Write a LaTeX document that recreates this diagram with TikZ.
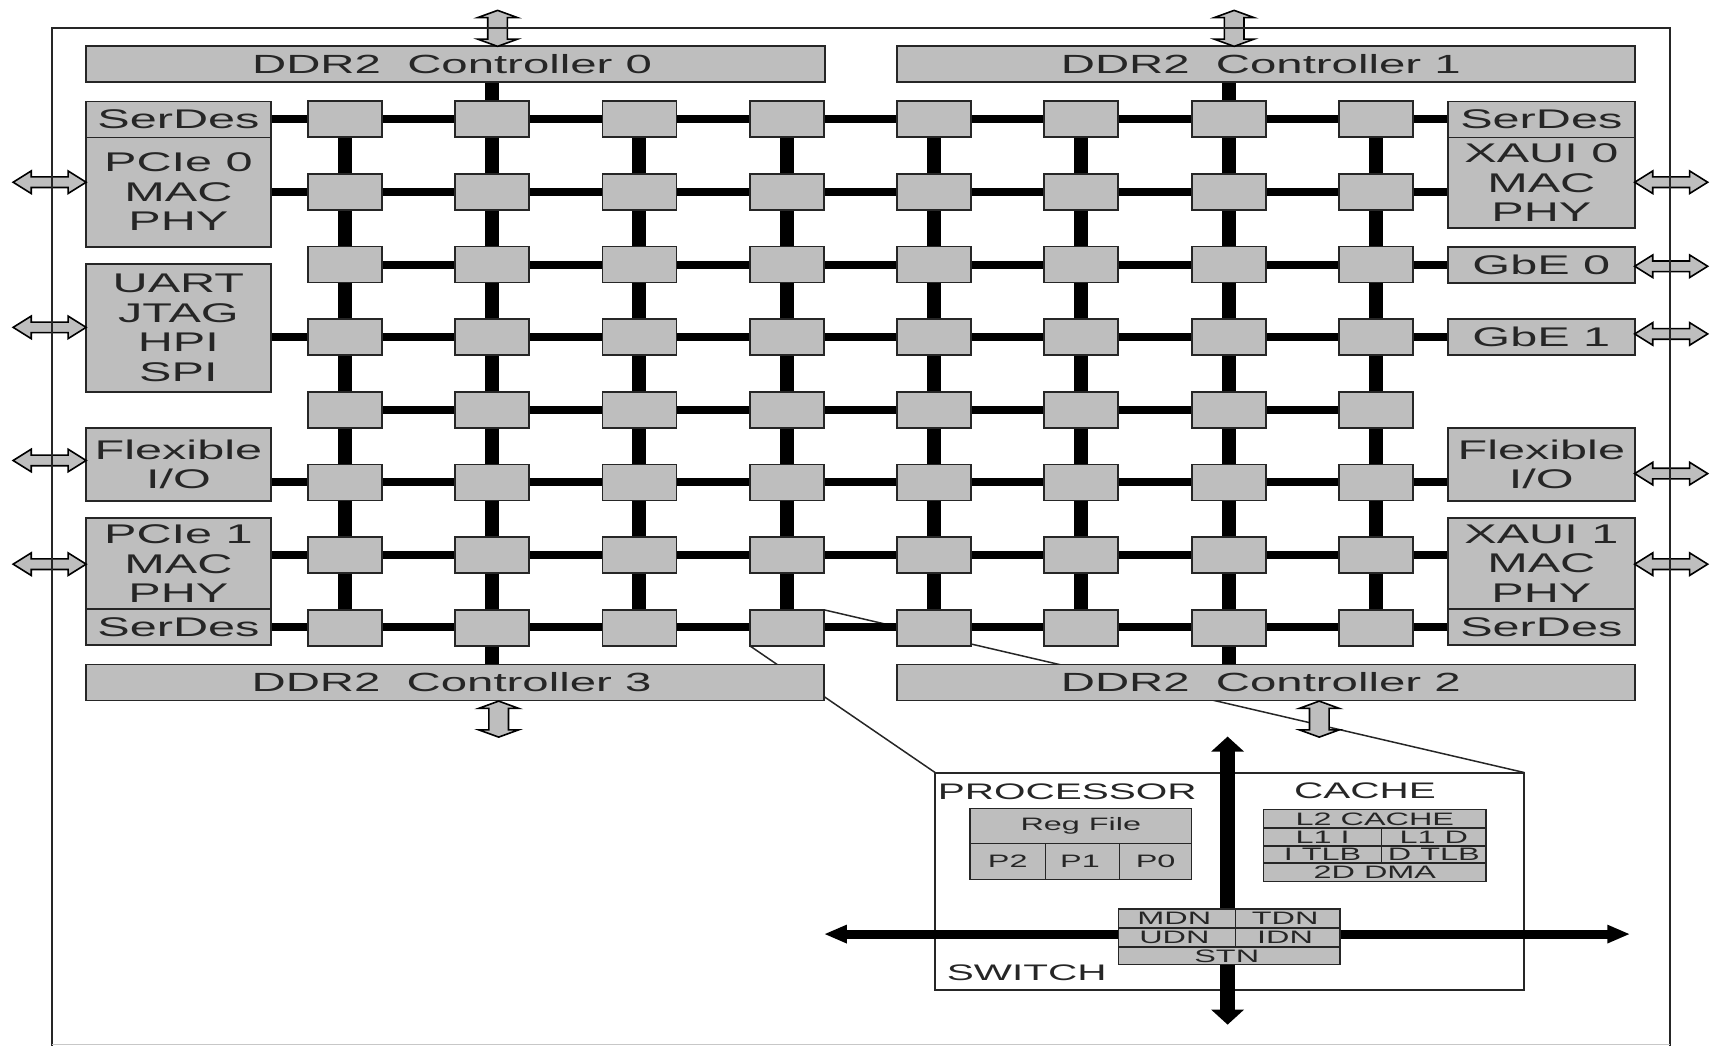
\documentclass[tikz,border=0pt]{standalone}
\usepackage{fontspec}
\setmainfont[FakeStretch=1.8]{Liberation Sans}
\usetikzlibrary{shapes.arrows,arrows.meta,backgrounds}
\definecolor{blockgray}{HTML}{BEBEBE}
\definecolor{inkc}{HTML}{262626}
% name, x1, y1, x2, y2, text (shrunk-reference coordinates)
\newcommand\bx[7][blockbox]{%
  \pgfmathsetmacro\myw{(#5-#3)*1.0912}%
  \pgfmathsetmacro\myh{(#6-#4)*1.0912}%
  \node[#1,minimum width=\myw pt,minimum height=\myh pt] (#2) at ({(#3+#5)/2},{(#4+#6)/2}) {#7};}
\tikzset{
  blockbox/.style={draw=inkc,fill=blockgray,line width=1.8pt,inner sep=0pt,outer sep=0pt,align=center,text=inkc,
    font=\fontsize{27}{29.5}\selectfont},
  ddrbox/.style={blockbox,font=\fontsize{26.3}{26.3}\selectfont},
  smallbox/.style={blockbox,line width=1.5pt,font=\fontsize{18}{18}\selectfont},
  tile/.style={draw=inkc,fill=blockgray,line width=1.8pt,inner sep=0pt,outer sep=0pt,minimum width=74pt,minimum height=36pt},
  hbus/.style={draw=black,line width=8pt},
  vbus/.style={draw=black,line width=14pt},
  thin link/.style={draw=inkc,line width=1.5pt},
  harrow/.style={double arrow,draw=black,fill=blockgray,line width=1.6pt,inner xsep=0pt,inner ysep=4.5pt,outer sep=0pt,
    minimum height=73pt,double arrow head extend=6pt,double arrow tip angle=64},
  varrow/.style={double arrow,rotate=90,draw=black,fill=blockgray,line width=1.6pt,inner xsep=0pt,inner ysep=9pt,outer sep=0pt,
    minimum height=36pt,double arrow head extend=10pt,double arrow tip angle=140},
  frame/.style={draw=inkc,line width=2pt,inner sep=0pt,outer sep=0pt},
  faint edge/.style={draw=black!22,line width=1.5pt},
  title/.style={inner sep=0pt,text=inkc,font=\fontsize{22.5}{22.5}\selectfont},
}
\begin{document}
\begin{tikzpicture}[x=1.0912pt,y=-1.0912pt]
\useasboundingbox (0,0) rectangle (1568,958);
% tiles
\foreach \c in {1,...,8}{\foreach \r in {1,...,8}{
  \node[tile] (t-\c-\r) at ({316+135*(\c-1)},{109.3+66.57*(\r-1)}) {};
}}
% DDR controllers
\bx[ddrbox]{ddr0}{79}{42}{756}{75}{DDR2 \ Controller 0\hspace*{7pt}}
\bx[ddrbox]{ddr1}{822}{42}{1498}{75}{DDR2 \ Controller 1\hspace*{10pt}}
\bx[ddrbox]{ddr3}{79}{609}{755}{642}{DDR2 \ Controller 3\hspace*{7pt}}
\bx[ddrbox]{ddr2}{822}{609}{1498}{642}{DDR2 \ Controller 2\hspace*{10pt}}
% left I/O
\bx{serl1}{79}{93}{248}{126}{SerDes}
\bx{pcie0}{79}{126}{248}{226}{PCIe 0\\MAC\\PHY}
\bx{uart}{79}{242}{248}{359}{UART\\JTAG\\HPI\\SPI}
\bx{flexl}{79}{392}{248}{459}{Flexible\\I/O}
\bx{pcie1}{79}{475}{248}{558}{PCIe 1\\MAC\\PHY}
\bx{serl2}{79}{558}{248}{591}{SerDes}
% right I/O
\bx{serr1}{1327}{93}{1498}{126}{SerDes}
\bx{xaui0}{1327}{126}{1498}{209}{XAUI 0\\MAC\\PHY}
\bx{gbe0}{1327}{226}{1498}{259}{GbE 0}
\bx{gbe1}{1327}{292}{1498}{325}{GbE 1}
\bx{flexr}{1327}{392}{1498}{459}{Flexible\\I/O}
\bx{xaui1}{1327}{475}{1498}{558}{XAUI 1\\MAC\\PHY}
\bx{serr2}{1327}{558}{1498}{591}{SerDes}
% detail frame
\bx[frame]{detail}{857}{708}{1397}{907}{}
\begin{pgfonlayer}{background}
  \draw[thin link] (t-4-8.south west) -- (detail.north west);
  \draw[thin link] (t-4-8.north east) -- (detail.north east);
  % horizontal buses
  \draw[hbus] (serl1) -- (serr1);
  \draw[hbus] (serl2) -- (serr2);
  \draw[hbus] (pcie0.east |- t-1-2) -- (xaui0.west |- t-8-2);
  \draw[hbus] (t-1-3) -- (gbe0.west |- t-8-3);
  \draw[hbus] (uart.east |- t-1-4) -- (gbe1.west |- t-8-4);
  \draw[hbus] (t-1-5) -- (t-8-5);
  \draw[hbus] (flexl.east |- t-1-6) -- (flexr.west |- t-8-6);
  \draw[hbus] (pcie1.east |- t-1-7) -- (xaui1.west |- t-8-7);
  % vertical buses
  \foreach \c in {1,3,4,5,6,8}{\draw[vbus] (t-\c-1) -- (t-\c-8);}
  \draw[vbus] (ddr0.south -| t-2-1) -- (ddr3.north -| t-2-8);
  \draw[vbus] (ddr1.south -| t-7-1) -- (ddr2.north -| t-7-8);
\end{pgfonlayer}
% external arrows
\node[varrow] (a-ddr0) at (456,26) {};
\node[varrow] (a-ddr1) at (1131,26) {};
\node[varrow] (a-ddr3) at (457,659) {};
\node[varrow] (a-ddr2) at (1209,659) {};
\node[harrow] (a-l1) at (45.5,167) {};
\node[harrow] (a-l2) at (45.5,300) {};
\node[harrow] (a-l3) at (45.5,422) {};
\node[harrow] (a-l4) at (45.5,517) {};
\node[harrow] (a-r1) at (1531.5,167) {};
\node[harrow] (a-r2) at (1531.5,244) {};
\node[harrow] (a-r3) at (1531.5,306) {};
\node[harrow] (a-r4) at (1531.5,434) {};
\node[harrow] (a-r5) at (1531.5,517) {};
% chip outline
\bx[frame]{chip}{48}{26}{1530}{1000}{}
\coordinate (chip-bl) at (48,957.2);
\coordinate (chip-br) at (1530,957.2);
\draw[faint edge] (chip-bl) -- (chip-br);
% thick network arrows
\coordinate (n) at (1125,675);
\coordinate (s) at (1125,939);
\coordinate (w) at (755,856);
\coordinate (e) at (1494,856);
\draw[black,line width=15pt,{Triangle[length=15pt,width=32pt]}-{Triangle[length=15pt,width=32pt]}] (n) -- (s);
\draw[black,line width=9pt,{Triangle[length=23pt,width=17pt]}-{Triangle[length=23pt,width=17pt]}] (w) -- (e);
% titles
\node[title] (tproc) at (978,725.5) {PROCESSOR};
\node[title] (tcache) at (1251,724.5) {CACHE};
\node[title] (tswitch) at (941,891.5) {SWITCH};
% processor
\bx[smallbox]{reg}{889}{741}{1092}{773}{Reg File}
\bx[smallbox]{p2}{889}{773}{958}{806}{P2}
\bx[smallbox]{p1}{958}{773}{1026}{806}{P1\hspace*{5pt}}
\bx[smallbox]{p0}{1026}{773}{1092}{806}{P0}
% cache
\bx[smallbox]{l2}{1158}{742}{1362}{759}{L2 CACHE}
\bx[smallbox]{l1i}{1158}{759}{1266}{775.5}{L1 I}
\bx[smallbox]{l1d}{1266}{759}{1362}{775.5}{L1 D}
\bx[smallbox]{itlb}{1158}{775.5}{1266}{791}{I TLB}
\bx[smallbox]{dtlb}{1266}{775.5}{1362}{791}{D TLB}
\bx[smallbox]{dma}{1158}{791}{1362}{808}{2D DMA}
% switch
\bx[smallbox]{mdn}{1025}{833}{1132}{850.5}{MDN\hspace*{5pt}}
\bx[smallbox]{tdn}{1132}{833}{1228}{850.5}{TDN\hspace*{5pt}}
\bx[smallbox]{udn}{1025}{850.5}{1132}{868}{UDN\hspace*{5pt}}
\bx[smallbox]{idn}{1132}{850.5}{1228}{868}{IDN\hspace*{5pt}}
\bx[smallbox]{stn}{1025}{868}{1228}{884}{STN\hspace*{5pt}}
\end{tikzpicture}
\end{document}
